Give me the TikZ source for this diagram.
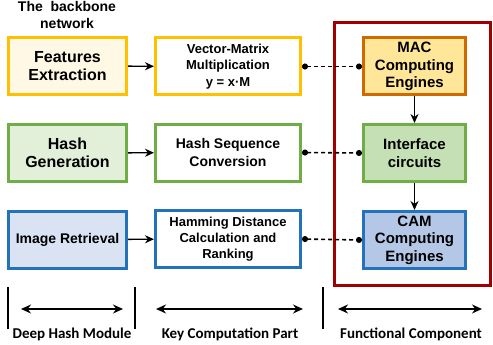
\documentclass[tikz,border=0pt]{standalone}
\usepackage{fontspec}
\setmainfont{Liberation Sans}
\newfontfamily\labelfont{Carlito}
\usetikzlibrary{arrows.meta}
\tikzset{>=stealth}
\definecolor{goldLine}{HTML}{FFC000}
\definecolor{goldFill}{HTML}{FFF8E5}
\definecolor{greenLine}{HTML}{70AD47}
\definecolor{greenFill}{HTML}{E2F0D9}
\definecolor{greenDark}{HTML}{C5E0B4}
\definecolor{blueLine}{HTML}{2372BA}
\definecolor{blueFill}{HTML}{DAE3F3}
\definecolor{blueDark}{HTML}{B4C7E7}
\definecolor{orangeLine}{HTML}{D06A00}
\definecolor{orangeFill}{HTML}{FFE699}
\definecolor{frameRed}{HTML}{A00000}
\tikzset{
  blk/.style={draw, line width=3pt, align=center, inner sep=0pt, minimum height=57pt},
  left blk/.style={blk, minimum width=118pt, font=\bfseries\fontsize{16}{18.5}\selectfont},
  mid blk/.style={blk, minimum width=145pt, fill=white, font=\bfseries\fontsize{13.5}{16.5}\selectfont},
  engine blk/.style={blk, minimum width=102pt, font=\bfseries\fontsize{15}{17.5}\selectfont},
  flow/.style={-{Stealth[length=9pt,width=8pt]}, line width=1.4pt},
  link/.style={{Circle[length=6pt]}-{Circle[length=6pt]}, line width=1.6pt, dash pattern=on 4pt off 3pt},
  span/.style={{Stealth[length=10pt,width=9pt]}-{Stealth[length=10pt,width=9pt]}, line width=1.4pt},
  part/.style={font=\labelfont\bfseries\fontsize{15}{17}\selectfont}
}

\begin{document}
\begin{tikzpicture}[x=1pt,y=-1pt]
  \useasboundingbox (0,0) rectangle (493,345);
  % functional component frame
  \draw [frameRed, line width=3pt] (334.5,22.5) rectangle (490.5,285.5);

  \node [font=\bfseries\fontsize{14}{17}\selectfont, align=center] (title) at (67,15) {The~ backbone\\network};

  \node [left blk, draw=goldLine, fill=goldFill] (fe) at (67.5,66) {Features\\Extraction};
  \node [mid blk, draw=goldLine, font=\bfseries\fontsize{13}{16.5}\selectfont] (vm) at (228,66.5) {Vector-Matrix\\Multiplication\\y = x·M};
  \node [engine blk, draw=orangeLine, fill=orangeFill] (mac) at (414.5,66.5) {MAC\\Computing\\Engines};

  \node [left blk, draw=greenLine, fill=greenFill] (hg) at (67.5,153) {Hash\\Generation};
  \node [mid blk, draw=greenLine, font=\bfseries\fontsize{14}{17.5}\selectfont] (hs) at (228,152.5) {Hash Sequence\\Conversion};
  \node [engine blk, draw=greenLine, fill=greenDark] (ifc) at (414.5,153) {Interface\\circuits};

  \node [left blk, draw=blueLine, fill=blueFill, font=\bfseries\fontsize{14}{17}\selectfont] (ir) at (67.5,239.5) {Image Retrieval};
  \node [mid blk, draw=blueLine, font=\bfseries\fontsize{13}{16}\selectfont] (hd) at (228,239) {Hamming Distance\\Calculation and\\Ranking};
  \node [engine blk, draw=blueLine, fill=blueDark] (cam) at (414.5,240) {CAM\\Computing\\Engines};

  \draw [flow] (fe) -- (vm);
  \draw [flow] (hg) -- (hs);
  \draw [flow] (ir) -- (hd);
  \draw [flow] (mac) -- (ifc);
  \draw [flow] (ifc) -- (cam);

  \draw [link] (vm.east) -- (mac.west);
  \draw [link] (hs.east) -- (ifc.west);
  \draw [link] (hd.east) -- (cam.west);

  % bottom parts
  \draw [line width=1.3pt] (8,287) -- (8,329);
  \draw [line width=1.3pt] (135,287) -- (135,329);
  \draw [line width=1.3pt] (323,287) -- (323,329);
  \coordinate (s1a) at (21,309);  \coordinate (s1b) at (123,309);
  \coordinate (s2a) at (156,309); \coordinate (s2b) at (303,309);
  \coordinate (s3a) at (338,309); \coordinate (s3b) at (482,309);
  \draw [span] (s1a) -- (s1b);
  \draw [span] (s2a) -- (s2b);
  \draw [span] (s3a) -- (s3b);
  \node [part] (dh) at (72,334) {Deep Hash Module};
  \node [part] (kc) at (230,334) {Key Computation Part};
  \node [part] (fc) at (411,334) {Functional Component};
\end{tikzpicture}
\end{document}
